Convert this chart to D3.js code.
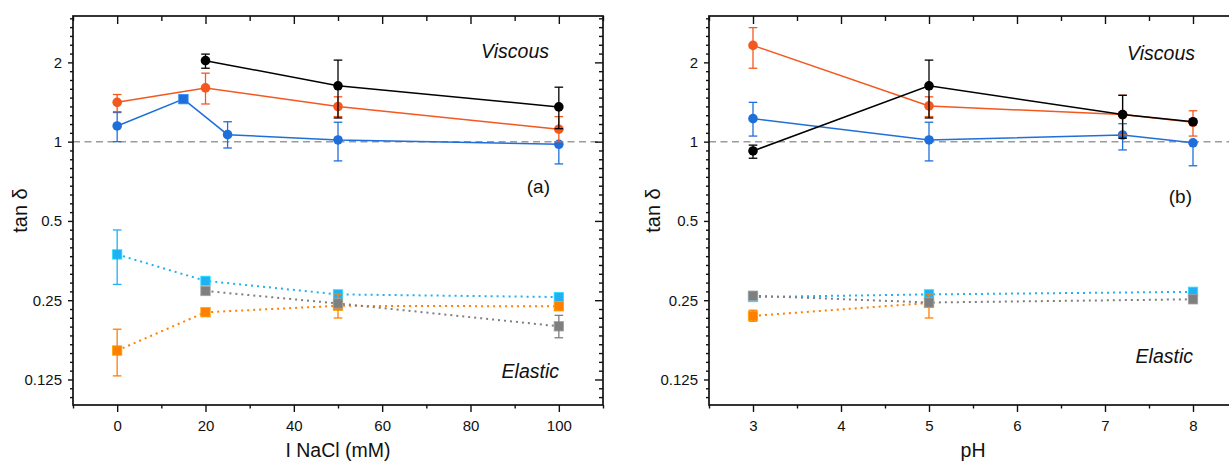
<!DOCTYPE html>
<html>
<head>
<meta charset="utf-8">
<script src="https://cdn.jsdelivr.net/npm/d3@7"></script>
<style>
  body { margin: 0; background: #fff; }
  svg { display: block; }
  text { font-family: "Liberation Sans", Arial, sans-serif; fill: #111; }
</style>
</head>
<body>
<svg id="chart" width="1229" height="463"></svg>
<script>
// ---------- Panel (a): tan δ versus NaCl ionic strength (mM) ----------
// viscous-side samples (solid lines, circles)
const naclBlackX  = [20, 50, 100];
const naclBlackY  = [2.03, 1.63, 1.355];
const naclBlackLo = [1.90, 1.23, 1.12];
const naclBlackHi = [2.15, 2.04, 1.61];

const naclRedX  = [0, 20, 50, 100];
const naclRedY  = [1.41, 1.60, 1.36, 1.115];
const naclRedLo = [1.30, 1.39, 1.245, 1.00];
const naclRedHi = [1.51, 1.82, 1.48, 1.245];

const naclBlueX  = [0, 15, 25, 50, 100];
const naclBlueY  = [1.147, 1.45, 1.063, 1.015, 0.977];
const naclBlueLo = [1.00, null, 0.946, 0.845, 0.823];
const naclBlueHi = [1.29, null, 1.19, 1.185, 1.00];

// elastic-side samples (dotted lines, squares)
const naclCyanX  = [0, 20, 50, 100];
const naclCyanY  = [0.373, 0.296, 0.263, 0.257];
const naclCyanLo = [0.287, null, null, null];
const naclCyanHi = [0.462, null, null, null];

const naclOrangeX  = [0, 20, 50, 100];
const naclOrangeY  = [0.161, 0.225, 0.238, 0.237];
const naclOrangeLo = [0.129, null, 0.214, null];
const naclOrangeHi = [0.194, null, 0.264, null];

const naclGrayX  = [20, 50, 100];
const naclGrayY  = [0.271, 0.243, 0.199];
const naclGrayLo = [null, null, 0.180];
const naclGrayHi = [null, null, 0.219];

// ---------- Panel (b): tan δ versus pH ----------
const phRedX  = [3, 5, 7.2, 8];
const phRedY  = [2.32, 1.367, 1.267, 1.185];
const phRedLo = [1.90, 1.245, 1.06, 1.05];
const phRedHi = [2.71, 1.48, 1.50, 1.31];

const phBlackX  = [3, 5, 7.2, 8];
const phBlackY  = [0.922, 1.63, 1.267, 1.19];
const phBlackLo = [0.865, 1.23, 1.03, null];
const phBlackHi = [0.97, 2.04, 1.50, null];

const phBlueX  = [3, 5, 7.2, 8];
const phBlueY  = [1.223, 1.015, 1.06, 0.99];
const phBlueLo = [1.05, 0.845, 0.93, 0.81];
const phBlueHi = [1.41, 1.185, 1.17, 0.99];

const phCyanX = [3, 5, 8];
const phCyanY = [0.257, 0.263, 0.269];

const phOrangeX  = [3, 5];
const phOrangeY  = [0.218, 0.244];
const phOrangeLo = [0.208, 0.214];
const phOrangeHi = [0.229, 0.264];

const phGrayX = [3, 5, 8];
const phGrayY = [0.26, 0.245, 0.252];

// ---------- axis ticks ----------
const yMajorTicks  = [0.125, 0.25, 0.5, 1, 2];
const yMajorLabels = ["0.125", "0.25", "0.5", "1", "2"];
const naclMajorTicks = [0, 20, 40, 60, 80, 100];
const naclMinorTicks = [-10, 10, 30, 50, 70, 90, 110];
const phMajorTicks = [3, 4, 5, 6, 7, 8];
const phMinorTicks = [2.5, 3.5, 4.5, 5.5, 6.5, 7.5, 8.5];

// ---------- helpers ----------
function series(xs, ys, lo, hi) {
  return xs.map((x, i) => ({
    x, y: ys[i],
    lo: lo ? lo[i] : null,
    hi: hi ? hi[i] : null
  }));
}

const COLORS = {
  black: "#000000",
  red: "#f4581f",
  blue: "#1f6fdb",
  cyan: "#1fb1f3",
  orange: "#ff8000",
  gray: "#7f7f7f"
};

const svg = d3.select("#chart");
const FONT = '"Liberation Sans", Arial, sans-serif';

function logMinorTicks(domain) {
  const out = [];
  for (let k = -5; k < 3; k++) {
    for (let i = 1; i < 9; i++) {
      const v = Math.pow(2, k + i / 9);
      if (v > domain[0] && v < domain[1]) out.push(v);
    }
  }
  return out;
}

function drawPanel(p) {
  const x = d3.scaleLinear().domain(p.xDomain).range([p.left, p.right]);
  const y = d3.scaleLog().base(2).domain([0.1, 3]).range([p.bottom, p.top]);
  const g = svg.append("g");

  // reference line at tan δ = 1
  g.append("line")
    .attr("x1", x(p.xDomain[0])).attr("x2", x(p.xDomain[1]))
    .attr("y1", y(1)).attr("y2", y(1))
    .attr("stroke", "#9b9b9b").attr("stroke-width", 1.5)
    .attr("stroke-dasharray", "7,4.5");

  const line = d3.line().x(d => x(d.x)).y(d => y(d.y));

  p.series.forEach(s => {
    const sg = g.append("g");
    sg.append("path")
      .attr("d", line(s.data))
      .attr("fill", "none")
      .attr("stroke", s.color)
      .attr("stroke-width", s.dotted ? 2 : 1.5)
      .attr("stroke-dasharray", s.dotted ? "2,4" : null)
      .attr("stroke-linecap", s.dotted ? "butt" : "round");

    // markers
    s.data.forEach((d, i) => {
      const shape = (s.shapes && s.shapes[i]) || s.shape;
      if (shape === "circle") {
        sg.append("circle")
          .attr("cx", x(d.x)).attr("cy", y(d.y)).attr("r", 4.8)
          .attr("fill", s.color);
      } else {
        sg.append("rect")
          .attr("x", x(d.x) - 4.7).attr("y", y(d.y) - 4.7)
          .attr("width", 9.4).attr("height", 9.4)
          .attr("fill", s.color)
          .attr("stroke", d3.color(s.color).brighter(0.7))
          .attr("stroke-width", 0.8);
      }
    });

    // error bars
    s.data.filter(d => d.lo != null && d.hi != null && d.hi > d.lo).forEach(d => {
      const cx = x(d.x);
      const eb = sg.append("g").attr("stroke", s.color).attr("stroke-width", 1.3);
      eb.append("line").attr("x1", cx).attr("x2", cx).attr("y1", y(d.lo)).attr("y2", y(d.hi));
      eb.append("line").attr("x1", cx - 4.3).attr("x2", cx + 4.3).attr("y1", y(d.lo)).attr("y2", y(d.lo));
      eb.append("line").attr("x1", cx - 4.3).attr("x2", cx + 4.3).attr("y1", y(d.hi)).attr("y2", y(d.hi));
    });
  });

  // axes
  const yMinor = logMinorTicks([0.1, 3]);
  function styleAxis(a) {
    a.select(".domain").remove();
    a.selectAll("line").attr("stroke", "#111").attr("stroke-width", 1.4);
    a.selectAll("text").attr("font-family", FONT).attr("font-size", 15).attr("fill", "#111");
  }
  // left
  styleAxis(g.append("g").attr("transform", `translate(${p.left},0)`)
    .call(d3.axisLeft(y).tickValues(yMajorTicks).tickFormat((d, i) => yMajorLabels[i])
      .tickSize(5).tickPadding(6)));
  styleAxis(g.append("g").attr("transform", `translate(${p.left},0)`)
    .call(d3.axisLeft(y).tickValues(yMinor).tickFormat("").tickSize(3)));
  // right (inward)
  styleAxis(g.append("g").attr("transform", `translate(${p.right},0)`)
    .call(d3.axisRight(y).tickValues(yMajorTicks).tickFormat("").tickSize(-8)));
  styleAxis(g.append("g").attr("transform", `translate(${p.right},0)`)
    .call(d3.axisRight(y).tickValues(yMinor).tickFormat("").tickSize(-4)));
  // bottom
  styleAxis(g.append("g").attr("transform", `translate(0,${p.bottom})`)
    .call(d3.axisBottom(x).tickValues(p.xMajor).tickFormat(d3.format("d"))
      .tickSize(7).tickPadding(8)));
  styleAxis(g.append("g").attr("transform", `translate(0,${p.bottom})`)
    .call(d3.axisBottom(x).tickValues(p.xMinor).tickFormat("").tickSize(3.5)));
  // top (inward)
  styleAxis(g.append("g").attr("transform", `translate(0,${p.top})`)
    .call(d3.axisTop(x).tickValues(p.xMajor).tickFormat("").tickSize(-8)));
  styleAxis(g.append("g").attr("transform", `translate(0,${p.top})`)
    .call(d3.axisTop(x).tickValues(p.xMinor).tickFormat("").tickSize(-5)));

  // frame
  g.append("rect")
    .attr("x", p.left).attr("y", p.top)
    .attr("width", p.right - p.left).attr("height", p.bottom - p.top)
    .attr("fill", "none").attr("stroke", "#111").attr("stroke-width", 1.7);

  // axis titles
  g.append("text")
    .attr("x", (p.left + p.right) / 2).attr("y", p.xTitleY)
    .attr("text-anchor", "middle").attr("font-size", 19.5)
    .text(p.xTitle);
  g.append("text")
    .attr("transform", `translate(${p.yTitleX},${(p.top + p.bottom) / 2}) rotate(-90)`)
    .attr("text-anchor", "middle").attr("font-size", 20)
    .text("tan δ");

  // annotations
  g.append("text").attr("x", p.viscous[0]).attr("y", p.viscous[1])
    .attr("text-anchor", "end").attr("font-size", 19.5).attr("font-style", "italic")
    .text("Viscous");
  g.append("text").attr("x", p.elastic[0]).attr("y", p.elastic[1])
    .attr("text-anchor", "end").attr("font-size", 19.5).attr("font-style", "italic")
    .text("Elastic");
  g.append("text").attr("x", p.tag[0]).attr("y", p.tag[1])
    .attr("text-anchor", "end").attr("font-size", 19)
    .text(p.tagText);
}

drawPanel({
  left: 73, right: 603, top: 16, bottom: 405,
  xDomain: [-10, 110],
  xMajor: naclMajorTicks, xMinor: naclMinorTicks,
  xTitle: "I NaCl (mM)", xTitleY: 457,
  yTitleX: 27,
  viscous: [549, 58], elastic: [559, 378], tag: [550, 193], tagText: "(a)",
  series: [
    { data: series(naclBlueX, naclBlueY, naclBlueLo, naclBlueHi), color: COLORS.blue, shape: "circle",
      shapes: ["circle", "square", "circle", "circle", "circle"] },
    { data: series(naclRedX, naclRedY, naclRedLo, naclRedHi), color: COLORS.red, shape: "circle" },
    { data: series(naclBlackX, naclBlackY, naclBlackLo, naclBlackHi), color: COLORS.black, shape: "circle" },
    { data: series(naclCyanX, naclCyanY, naclCyanLo, naclCyanHi), color: COLORS.cyan, shape: "square", dotted: true },
    { data: series(naclOrangeX, naclOrangeY, naclOrangeLo, naclOrangeHi), color: COLORS.orange, shape: "square", dotted: true },
    { data: series(naclGrayX, naclGrayY, naclGrayLo, naclGrayHi), color: COLORS.gray, shape: "square", dotted: true }
  ]
});

drawPanel({
  left: 709, right: 1237, top: 16, bottom: 405,
  xDomain: [2.5, 8.5],
  xMajor: phMajorTicks, xMinor: phMinorTicks,
  xTitle: "pH", xTitleY: 457,
  yTitleX: 660,
  viscous: [1195, 60], elastic: [1193, 363], tag: [1192, 203], tagText: "(b)",
  series: [
    { data: series(phBlueX, phBlueY, phBlueLo, phBlueHi), color: COLORS.blue, shape: "circle" },
    { data: series(phRedX, phRedY, phRedLo, phRedHi), color: COLORS.red, shape: "circle" },
    { data: series(phBlackX, phBlackY, phBlackLo, phBlackHi), color: COLORS.black, shape: "circle" },
    { data: series(phCyanX, phCyanY), color: COLORS.cyan, shape: "square", dotted: true },
    { data: series(phOrangeX, phOrangeY, phOrangeLo, phOrangeHi), color: COLORS.orange, shape: "square", dotted: true },
    { data: series(phGrayX, phGrayY), color: COLORS.gray, shape: "square", dotted: true }
  ]
});
</script>
</body>
</html>
